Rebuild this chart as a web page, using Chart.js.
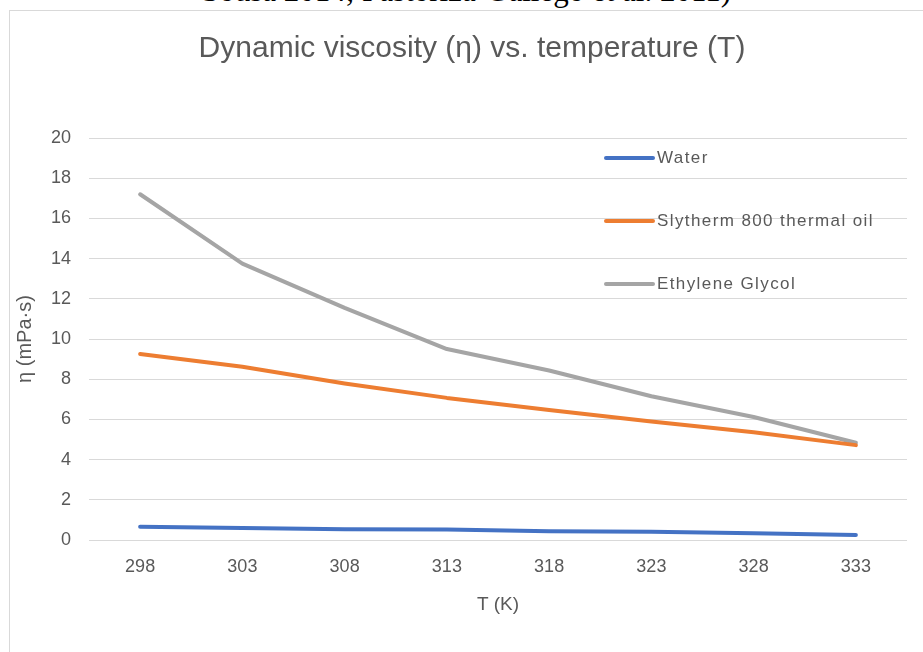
<!DOCTYPE html>
<html>
<head>
<meta charset="utf-8">
<script src="https://cdn.jsdelivr.net/npm/chart.js@4/dist/chart.umd.min.js"></script>
<style>
  body { margin: 0; background: #fff; width: 923px; height: 652px; overflow: hidden; position: relative; }
  #cap { position: absolute; top: -25px; left: 0; width: 933px; text-align: center; font: 31px/31px "Liberation Serif", "Times New Roman", serif; color: #000; white-space: nowrap; }
  #frame { position: absolute; left: 9px; top: 10px; width: 914px; height: 642px; border-left: 1px solid #d9d9d9; border-top: 1px solid #d9d9d9; background: #fff; }
  #wrap { position: absolute; left: 0; top: 0; width: 913px; height: 641px; }
</style>
</head>
<body>
<div id="cap">Sousa 2014; Pastoriza-Gallego et al. 2011)</div>
<div id="frame"><div id="wrap"><canvas id="chart"></canvas></div></div>
<script>
// Temperatures (K) and viscosities (mPa·s)
const temps = ['298', '303', '308', '313', '318', '323', '328', '333'];
const water = [0.66, 0.60, 0.53, 0.52, 0.43, 0.41, 0.33, 0.25];
const slytherm = [9.25, 8.62, 7.79, 7.07, 6.47, 5.89, 5.36, 4.72];
const glycol = [17.2, 13.75, 11.55, 9.5, 8.43, 7.15, 6.12, 4.84];
const yTicks = [0, 2, 4, 6, 8, 10, 12, 14, 16, 18, 20];

const textGrey = '#595959';
const font = 'Liberation Sans, Arial, sans-serif';

// Excel style legend sitting inside the plot area
const insideLegend = {
    id: 'insideLegend',
    afterDraw(chart) {
        const ctx = chart.ctx;
        const x0 = 596, rows = [147, 210, 273];
        ctx.save();
        ctx.font = '17px ' + font;
        ctx.letterSpacing = '1.4px';
        ctx.textBaseline = 'middle';
        chart.data.datasets.forEach((ds, i) => {
            ctx.strokeStyle = ds.borderColor;
            ctx.lineWidth = 4;
            ctx.lineCap = 'round';
            ctx.beginPath();
            ctx.moveTo(x0, rows[i]);
            ctx.lineTo(x0 + 47, rows[i]);
            ctx.stroke();
            ctx.fillStyle = textGrey;
            ctx.fillText(ds.label, x0 + 51, rows[i]);
        });
        ctx.restore();
    }
};

new Chart(document.getElementById('chart'), {
    type: 'line',
    data: {
        labels: temps,
        datasets: [
            { label: 'Water', data: water, borderColor: '#4472C4' },
            { label: 'Slytherm 800 thermal oil', data: slytherm, borderColor: '#ED7D31' },
            { label: 'Ethylene Glycol', data: glycol, borderColor: '#A5A5A5' }
        ]
    },
    options: {
        responsive: true,
        maintainAspectRatio: false,
        animation: false,
        layout: { padding: { left: 27, right: 16 } },
        elements: {
            line: { borderWidth: 4, tension: 0, borderCapStyle: 'round', borderJoinStyle: 'round' },
            point: { radius: 0, hoverRadius: 0 }
        },
        plugins: {
            legend: { display: false },
            tooltip: { enabled: false },
            title: {
                display: true,
                text: 'Dynamic viscosity (\u03b7) vs. temperature (T)',
                color: textGrey,
                font: { family: font, size: 30, weight: 'normal' },
                padding: { top: 20, bottom: 71 }
            }
        },
        scales: {
            x: {
                offset: true,
                grid: { display: false, drawTicks: false },
                border: { display: false },
                ticks: { color: textGrey, font: { family: font, size: 18 }, padding: 16, maxRotation: 0 },
                title: { display: true, text: 'T (K)', color: textGrey, font: { family: font, size: 19 }, padding: { top: 0, bottom: 36 } },
                afterFit(scale) { scale.height = 112; }
            },
            y: {
                min: 0,
                max: 20,
                afterBuildTicks(scale) { scale.ticks = yTicks.map(v => ({ value: v })); },
                grid: { color: '#d9d9d9', lineWidth: 1, drawTicks: false },
                border: { display: false },
                ticks: { color: textGrey, font: { family: font, size: 18 }, padding: 18 },
                title: { display: true, text: '\u03b7 (mPa\u00b7s)', color: textGrey, font: { family: font, size: 20 }, padding: { top: -24, bottom: 0 } },
                afterFit(scale) { scale.width = 52; }
            }
        }
    },
    plugins: [insideLegend]
});
</script>
</body>
</html>
